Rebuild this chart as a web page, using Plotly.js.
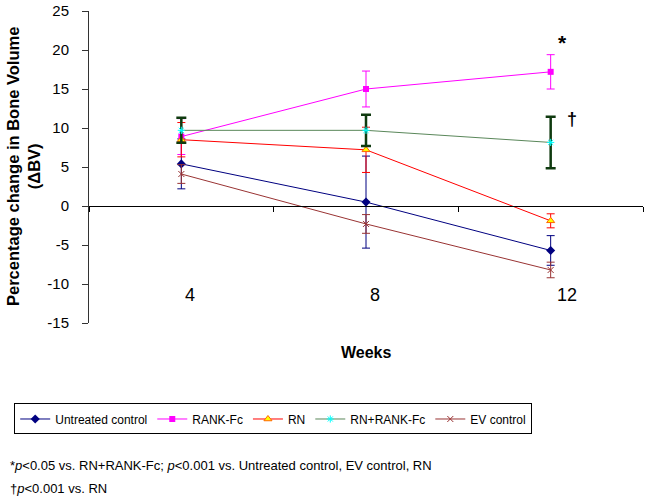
<!DOCTYPE html>
<html>
<head>
<meta charset="utf-8">
<script src="https://cdn.plot.ly/plotly-3.0.1.min.js"></script>
<style>
html,body{margin:0;padding:0;background:#fff;}
#chart{width:649px;height:502px;}
</style>
</head>
<body>
<div id="chart"></div>
<script>
// ---- data ----
var weeks = ['4', '8', '12'];
var seriesNames = ['Untreated control', 'RANK-Fc', 'RN', 'RN+RANK-Fc', 'EV control'];
var untreated = [5.4, 0.5, -5.7];
var untreatedErr = [3.2, 5.9, 1.9];
var rankFc = [8.9, 15.0, 17.2];
var rankFcErr = [2.3, 2.3, 2.2];
var rn = [8.5, 7.2, -1.9];
var rnErr = [2.2, 2.9, 0.9];
var rnRankFc = [9.7, 9.7, 8.15];
var rnRankFcErr = [1.6, 2.0, 3.3];
var evControl = [4.1, -2.3, -8.2];
var evControlErr = [1.2, 1.2, 1.0];
var yTicks = [-15, -10, -5, 0, 5, 10, 15, 20, 25];
var footnote1 = '*<i>p</i>&lt;0.05 vs. RN+RANK-Fc; <i>p</i>&lt;0.001 vs. Untreated control, EV control, RN';
var footnote2 = '†<i>p</i>&lt;0.001 vs. RN';

var FONT = 'Arial, "Liberation Sans", sans-serif';

function trace(name, y, err, lineColor, marker, errColor, errThick, errWidth) {
  return {
    type: 'scatter', mode: 'lines+markers', name: name,
    x: weeks, y: y,
    line: {color: lineColor, width: 1},
    marker: marker,
    error_y: {type: 'data', array: err, visible: true, color: errColor, thickness: errThick, width: errWidth}
  };
}

var traces = [
  trace(seriesNames[0], untreated, untreatedErr, '#000080',
        {symbol: 'diamond', size: 7, color: '#000080'}, '#000080', 1, 4),
  trace(seriesNames[1], rankFc, rankFcErr, '#FF00FF',
        {symbol: 'square', size: 6, color: '#FF00FF'}, '#FF00FF', 1, 4),
  trace(seriesNames[2], rn, rnErr, '#FF0000',
        {symbol: 'triangle-up', size: 7, color: '#FFFF00', line: {color: '#FF6600', width: 1}}, '#FF0000', 1, 4),
  trace(seriesNames[3], rnRankFc, rnRankFcErr, '#5A875A',
        {symbol: 'asterisk', size: 6, color: '#00FFFF', line: {color: '#00FFFF', width: 1}}, '#0F3A0F', 2.5, 5),
  trace(seriesNames[4], evControl, evControlErr, '#993333',
        {symbol: 'x-thin', size: 6, color: '#993333', line: {color: '#993333', width: 1}}, '#993333', 1, 4)
];

var labelShift = [9, 9, 16];
var annotations = weeks.map(function (w, i) {
  return {x: i, y: -11.4, xref: 'x', yref: 'y', text: w, showarrow: false,
          xanchor: 'center', yanchor: 'middle',
          xshift: labelShift[i], font: {family: FONT, size: 18, color: '#000'}};
});
annotations.push(
  {x: 0, xref: 'paper', xshift: -66, y: 0.5, yref: 'paper', textangle: -90, showarrow: false,
   xanchor: 'center', yanchor: 'middle',
   text: '<b>Percentage change in Bone Volume<br>(ΔBV)</b>', font: {family: FONT, size: 16.5, color: '#000'}},
  {x: 0.5, xref: 'paper', y: -0.096, yref: 'paper', showarrow: false,
   xanchor: 'center', yanchor: 'middle',
   text: '<b>Weeks</b>', font: {family: FONT, size: 16, color: '#000'}},
  {x: 2, xref: 'x', y: 20.9, yref: 'y', xshift: 12, showarrow: false,
   xanchor: 'center', yanchor: 'middle',
   text: '<b>*</b>', font: {family: FONT, size: 21, color: '#000'}},
  {x: 2, xref: 'x', y: 11.1, yref: 'y', xshift: 21, showarrow: false,
   xanchor: 'center', yanchor: 'middle',
   text: '<b>†</b>', font: {family: FONT, size: 18, color: '#000'}},
  {x: 0, xref: 'paper', xshift: -81, xanchor: 'left', yanchor: 'middle', y: -0.458, yref: 'paper', showarrow: false,
   text: footnote1, font: {family: FONT, size: 13, color: '#000'}},
  {x: 0, xref: 'paper', xshift: -81, xanchor: 'left', yanchor: 'middle', y: -0.529, yref: 'paper', showarrow: false,
   text: footnote2, font: {family: FONT, size: 13, color: '#000'}}
);

var layout = {
  width: 649, height: 502,
  margin: {l: 89, r: 6, t: 11, b: 179},
  paper_bgcolor: '#fff', plot_bgcolor: '#fff',
  font: {family: FONT, size: 13, color: '#000'},
  showlegend: true,
  legend: {orientation: 'h', x: -0.135, xanchor: 'left', y: -0.258, yanchor: 'top',
           bordercolor: '#000', borderwidth: 1, font: {family: FONT, size: 12, color: '#000'},
           itemwidth: 30, tracegroupgap: 0},
  xaxis: {
    type: 'category', range: [-0.5, 2.5], anchor: 'free', position: 0.375,
    showline: true, linecolor: '#000', linewidth: 1,
    ticks: 'outside', ticklen: 5, tickcolor: '#000', tickson: 'boundaries',
    showticklabels: false, showgrid: false, zeroline: false, fixedrange: true
  },
  yaxis: {
    range: [-15, 25], tickvals: yTicks, ticktext: yTicks.map(String),
    showline: true, linecolor: '#333', linewidth: 1, automargin: false,
    ticks: 'outside', ticklen: 6, tickcolor: '#333', ticklabelstandoff: 10,
    tickfont: {family: FONT, size: 15, color: '#000'},
    showgrid: false, zeroline: false, fixedrange: true
  },
  annotations: annotations
};

Plotly.newPlot('chart', traces, layout, {displayModeBar: false, staticPlot: true});
</script>
</body>
</html>
